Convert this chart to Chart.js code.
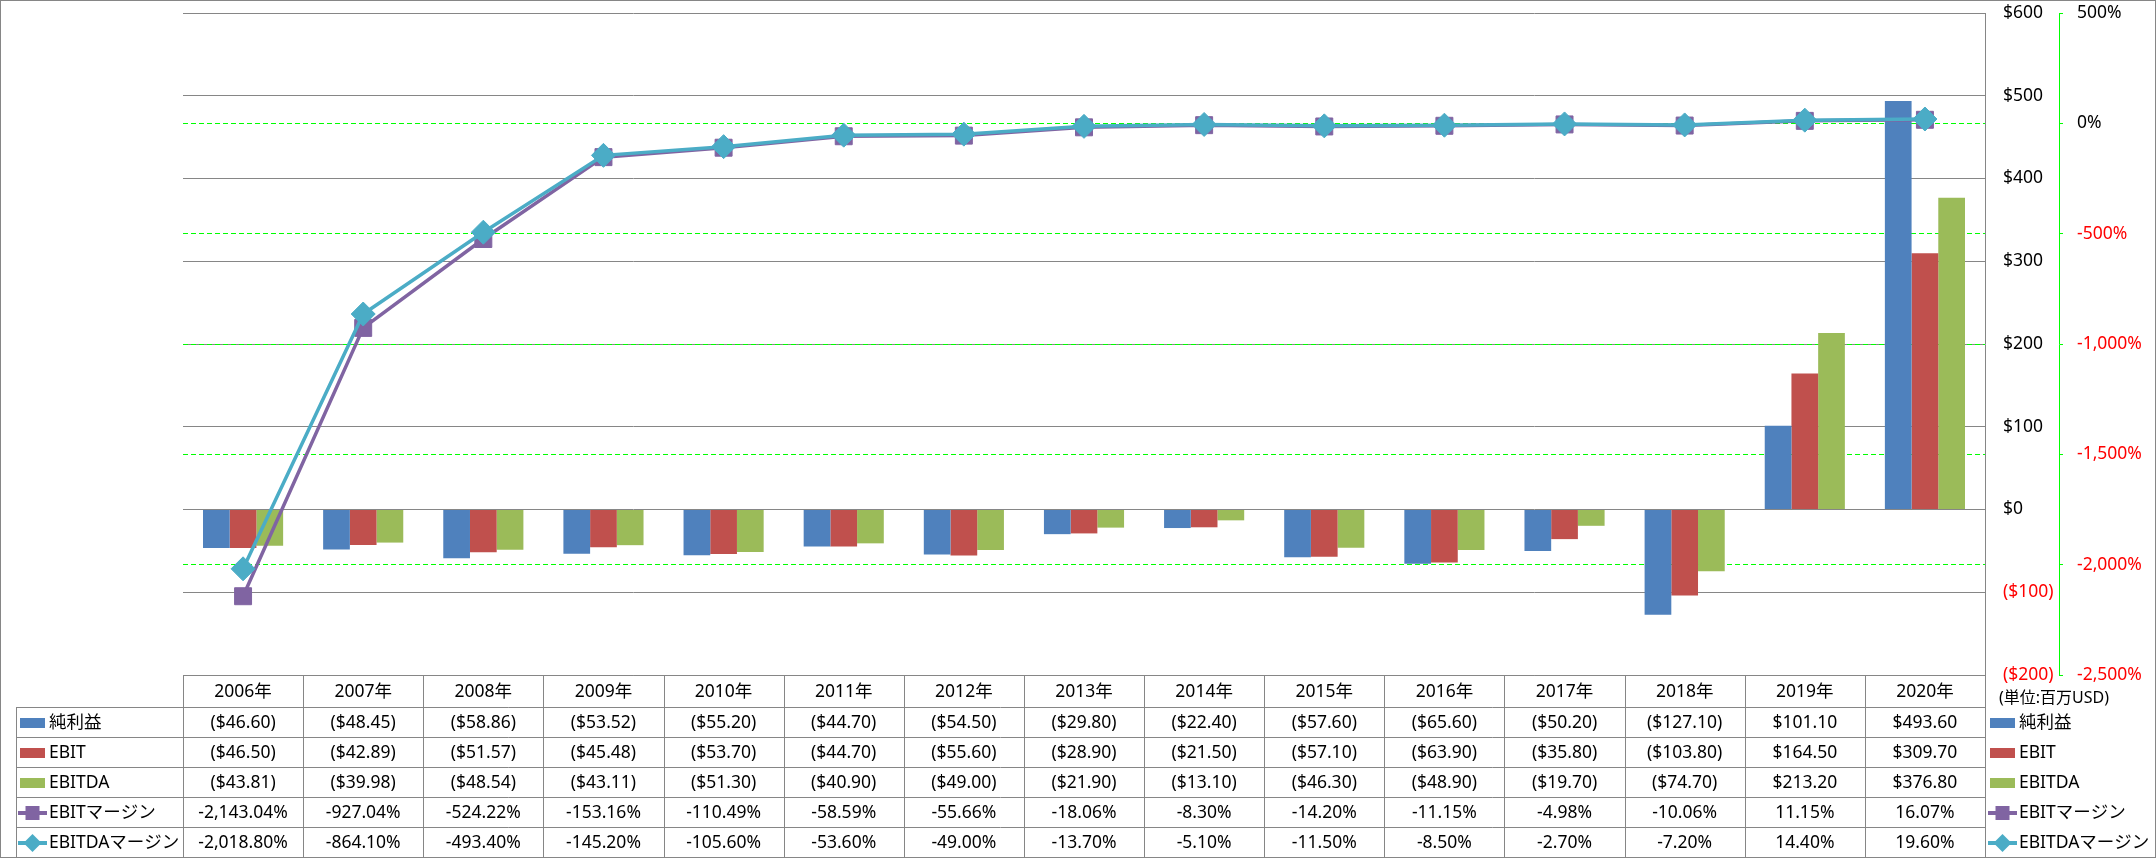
<!DOCTYPE html>
<html>
<head>
<meta charset="utf-8">
<script src="https://cdn.jsdelivr.net/npm/chart.js@4"></script>
<style>
  html, body { margin: 0; padding: 0; background: #fff; }
</style>
</head>
<body>
<canvas id="marginChart" width="2156" height="858"></canvas>
<script>
const years = ['2006年', '2007年', '2008年', '2009年', '2010年', '2011年', '2012年', '2013年',
    '2014年', '2015年', '2016年', '2017年', '2018年', '2019年', '2020年'];

// 百万USD
const netIncome = [-46.60, -48.45, -58.86, -53.52, -55.20, -44.70, -54.50, -29.80, -22.40, -57.60, -65.60, -50.20, -127.10, 101.10, 493.60];
const ebit = [-46.50, -42.89, -51.57, -45.48, -53.70, -44.70, -55.60, -28.90, -21.50, -57.10, -63.90, -35.80, -103.80, 164.50, 309.70];
const ebitda = [-43.81, -39.98, -48.54, -43.11, -51.30, -40.90, -49.00, -21.90, -13.10, -46.30, -48.90, -19.70, -74.70, 213.20, 376.80];

// %
const ebitMargin = [-2143.04, -927.04, -524.22, -153.16, -110.49, -58.59, -55.66, -18.06, -8.30, -14.20, -11.15, -4.98, -10.06, 11.15, 16.07];
const ebitdaMargin = [-2018.80, -864.10, -493.40, -145.20, -105.60, -53.60, -49.00, -13.70, -5.10, -11.50, -8.50, -2.70, -7.20, 14.40, 19.60];

const seriesNames = ['純利益', 'EBIT', 'EBITDA', 'EBITマージン', 'EBITDAマージン'];
const unitLabel = '(単位:百万USD)';

const BLUE = '#4F81BD', RED = '#C0504D', GREEN = '#9BBB59', PURPLE = '#8064A2', TEAL = '#4BACC6';
const GRID = '#868686';
const FONT = "'Noto Sans', 'Noto Sans CJK JP', sans-serif";

Chart.defaults.font.family = FONT;
Chart.defaults.font.size = 17.5;
Chart.defaults.color = '#000';

const fmtMoney = v => v < 0 ? '($' + Math.abs(v).toFixed(2) + ')' : '$' + v.toFixed(2);
const fmtPct = v => v.toLocaleString('en-US', { minimumFractionDigits: 2, maximumFractionDigits: 2 }) + '%';

const tableRows = [
    { name: seriesNames[0], values: netIncome, kind: 'bar', color: BLUE, fmt: fmtMoney },
    { name: seriesNames[1], values: ebit, kind: 'bar', color: RED, fmt: fmtMoney },
    { name: seriesNames[2], values: ebitda, kind: 'bar', color: GREEN, fmt: fmtMoney },
    { name: seriesNames[3], values: ebitMargin, kind: 'rect', color: PURPLE, fmt: fmtPct },
    { name: seriesNames[4], values: ebitdaMargin, kind: 'diamond', color: TEAL, fmt: fmtPct }
];

function drawKey(ctx, x, y, row) {
    ctx.save();
    ctx.fillStyle = row.color;
    if (row.kind === 'bar') {
        ctx.fillRect(x, y - 5, 25, 10);
    } else {
        ctx.strokeStyle = row.color;
        ctx.lineWidth = 4;
        ctx.beginPath();
        ctx.moveTo(x - 2, y);
        ctx.lineTo(x + 27, y);
        ctx.stroke();
        const cx = x + 12.5;
        ctx.beginPath();
        if (row.kind === 'rect') {
            ctx.rect(cx - 7, y - 7, 14, 14);
        } else {
            ctx.moveTo(cx, y - 9);
            ctx.lineTo(cx + 9, y);
            ctx.lineTo(cx, y + 9);
            ctx.lineTo(cx - 9, y);
            ctx.closePath();
        }
        ctx.fill();
    }
    ctx.restore();
}

// Excel style data table under the plot + right hand legend
const dataTable = {
    id: 'dataTable',
    afterDraw(chart) {
        const ctx = chart.ctx;
        const area = chart.chartArea;
        const xs = chart.scales.x;
        const colW = (area.right - area.left) / years.length;
        const top = Math.round(area.bottom);
        const headH = 32, rowH = 30;
        const bottom = chart.height - 1;
        const right = Math.round(area.right);

        ctx.save();
        ctx.strokeStyle = GRID;
        ctx.lineWidth = 1;

        ctx.strokeRect(0.5, 0.5, chart.width - 1, chart.height - 1);

        ctx.beginPath();
        ctx.moveTo(area.left, top + 0.5);
        ctx.lineTo(right, top + 0.5);
        for (let r = 0; r < tableRows.length; r++) {
            const y = top + headH + r * rowH + 0.5;
            ctx.moveTo(16, y);
            ctx.lineTo(right, y);
        }
        ctx.moveTo(16.5, top + headH);
        ctx.lineTo(16.5, bottom);
        for (let i = 0; i <= years.length; i++) {
            const x = Math.round(area.left + i * colW) + 0.5;
            ctx.moveTo(x, top);
            ctx.lineTo(x, bottom);
        }
        ctx.stroke();

        ctx.fillStyle = '#000';
        ctx.font = '17.5px ' + FONT;
        ctx.textAlign = 'center';
        ctx.textBaseline = 'middle';
        years.forEach((yr, i) => {
            ctx.fillText(yr, xs.getPixelForValue(i), top + headH / 2 + 1);
        });

        tableRows.forEach((row, r) => {
            const cy = top + headH + r * rowH + rowH / 2 + 1;
            ctx.textAlign = 'center';
            row.values.forEach((v, i) => {
                ctx.fillText(row.fmt(v), xs.getPixelForValue(i), cy);
            });
            ctx.textAlign = 'left';
            drawKey(ctx, 20, cy, row);
            ctx.fillText(row.name, 49, cy);
            drawKey(ctx, 1990, cy, row);
            ctx.fillText(row.name, 2019, cy);
        });

        ctx.font = '16px ' + FONT;
        ctx.textAlign = 'left';
        ctx.fillText(unitLabel, 1999, top + 23);
        ctx.restore();
    }
};

const marginChart = document.getElementById('marginChart');

new Chart(marginChart, {
    type: 'bar',
    data: {
        labels: years,
        datasets: [
            {
                type: 'line',
                label: seriesNames[4],
                data: ebitdaMargin,
                yAxisID: 'y1',
                borderColor: TEAL,
                backgroundColor: TEAL,
                borderWidth: 3.5,
                pointStyle: 'rectRot',
                pointRadius: 12,
                pointBorderWidth: 1,
                order: 0
            },
            {
                type: 'line',
                label: seriesNames[3],
                data: ebitMargin,
                yAxisID: 'y1',
                borderColor: PURPLE,
                backgroundColor: PURPLE,
                borderWidth: 3.5,
                pointStyle: 'rect',
                pointRadius: 12,
                pointBorderWidth: 1,
                order: 1
            },
            { label: seriesNames[0], data: netIncome, backgroundColor: BLUE, yAxisID: 'y', order: 2 },
            { label: seriesNames[1], data: ebit, backgroundColor: RED, yAxisID: 'y', order: 3 },
            { label: seriesNames[2], data: ebitda, backgroundColor: GREEN, yAxisID: 'y', order: 4 }
        ]
    },
    options: {
        responsive: false,
        animation: false,
        categoryPercentage: 0.667,
        barPercentage: 1.0,
        layout: { padding: { left: 183, top: 12, bottom: 183, right: 0 } },
        plugins: {
            legend: { display: false },
            tooltip: { enabled: false }
        },
        scales: {
            x: { display: false },
            y: {
                position: 'right',
                min: -200,
                max: 600,
                ticks: {
                    stepSize: 100,
                    padding: 18,
                    callback: v => v < 0 ? '($' + Math.abs(v) + ')' : '$' + v,
                    color: c => c.tick.value < 0 ? '#FF0000' : '#000000'
                },
                grid: { color: GRID, drawTicks: false },
                border: { color: GRID },
                afterFit: s => { s.width = 74; s.paddingTop = 0; s.paddingBottom = 0; }
            },
            y1: {
                position: 'right',
                min: -2500,
                max: 500,
                ticks: {
                    stepSize: 500,
                    padding: 14,
                    callback: v => v.toLocaleString('en-US') + '%',
                    color: c => c.tick.value < 0 ? '#FF0000' : '#000000'
                },
                grid: {
                    color: c => (c.tick && (c.tick.value === 500 || c.tick.value === -2500)) ? 'rgba(0,0,0,0)' : '#00FF00',
                    tickColor: '#00FF00',
                    tickLength: 4
                },
                border: { color: '#00FF00', dash: [5, 3] },
                afterFit: s => { s.width = 97; s.paddingTop = 0; s.paddingBottom = 0; }
            }
        }
    },
    plugins: [dataTable]
});
</script>
</body>
</html>
